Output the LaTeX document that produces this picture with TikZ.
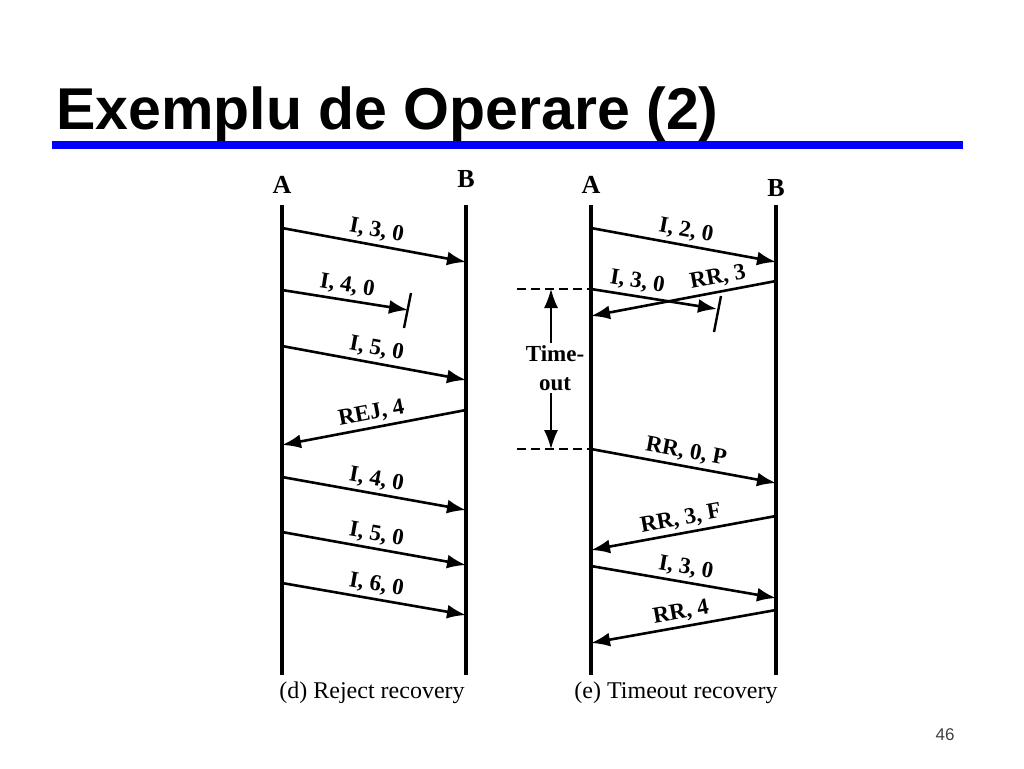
\documentclass[tikz,border=0pt]{standalone}
\usepackage{fontspec}
\setmainfont{Liberation Serif}
\newfontfamily\titlefont{Liberation Sans}
\usetikzlibrary{arrows.meta}

\begin{document}
\begin{tikzpicture}[x=1pt,y=-1pt,
    life/.style={line width=3.2pt},
    msg/.style={line width=2.6pt,-{Latex[length=19pt,width=14pt]}},
    lbl/.style={sloped,above,inner sep=3.5pt,font=\bfseries\fontsize{23}{23}\selectfont},
    who/.style={font=\bfseries\fontsize{26}{26}\selectfont},
    capt/.style={font=\fontsize{24}{24}\selectfont}]
\useasboundingbox (0,0) rectangle (1024,768);

% title
\node[anchor=base west,inner sep=0pt,font=\titlefont\bfseries\fontsize{59}{59}\selectfont] (title) at (56,129) {Exemplu de Operare (2)};
\fill[blue] (52,141) rectangle (963,149);
\node[font=\titlefont\fontsize{17}{17}\selectfont,black!75] (page) at (945,735) {46};

% (d) reject recovery
\node[who] (dA) at (282,185) {A};
\node[who] (dB) at (466,179) {B};
\coordinate (dA0) at (282,205); \coordinate (dA1) at (282,675);
\coordinate (dB0) at (466,205); \coordinate (dB1) at (466,675);
\draw[life] (dA0) -- (dA1);
\draw[life] (dB0) -- (dB1);

\foreach \ya/\yb/\txt [count=\i] in {228/262/{I, 3, 0},346/380/{I, 5, 0},477/510/{I, 4, 0},532/565/{I, 5, 0},583/615/{I, 6, 0}}
{
  \coordinate (ds\i) at (282,\ya);
  \coordinate (de\i) at (466,\yb);
  \draw[msg] (ds\i) -- node[lbl]{\txt} (de\i);
}
% lost frame
\coordinate (dls) at (282,290); \coordinate (dle) at (408,310);
\draw[msg] (dls) -- node[lbl]{I, 4, 0} (dle);
\coordinate (dk0) at (411,293); \coordinate (dk1) at (404,328);
\draw[line width=2.4pt] (dk0) -- (dk1);
% reject
\coordinate (drs) at (466,410); \coordinate (dre) at (282,445);
\draw[msg] (drs) -- node[lbl]{REJ, 4} (dre);

\node[capt] (capd) at (372,693) {(d) Reject recovery};

% (e) timeout recovery
\node[who] (eA) at (591,185) {A};
\node[who] (eB) at (776,188) {B};
\coordinate (eA0) at (591,205); \coordinate (eA1) at (591,675);
\coordinate (eB0) at (776,205); \coordinate (eB1) at (776,675);
\draw[life] (eA0) -- (eA1);
\draw[life] (eB0) -- (eB1);

\foreach \ya/\yb/\txt [count=\i] in {228/262/{I, 2, 0},449/483/{RR, 0, P},566/598/{I, 3, 0}}
{
  \coordinate (es\i) at (591,\ya);
  \coordinate (ee\i) at (776,\yb);
  \draw[msg] (es\i) -- node[lbl]{\txt} (ee\i);
}
\foreach \yb/\ya/\txt [count=\i] in {516/550/{RR, 3, F},610/643/{RR, 4}}
{
  \coordinate (fs\i) at (776,\yb);
  \coordinate (fe\i) at (591,\ya);
  \draw[msg] (fs\i) -- node[lbl]{\txt} (fe\i);
}
% crossing frames
\coordinate (els) at (591,289); \coordinate (ele) at (717,309);
\draw[msg] (els) -- node[lbl,pos=.35]{I, 3, 0} (ele);
\coordinate (ek0) at (721,296); \coordinate (ek1) at (714,332);
\draw[line width=2.4pt] (ek0) -- (ek1);
\coordinate (ers) at (776,281); \coordinate (ere) at (591,316);
\draw[msg] (ers) -- node[lbl,pos=.3]{RR, 3} (ere);

% timer
\coordinate (t0) at (517,289); \coordinate (t1) at (517,449);
\draw[line width=1.3pt,dash pattern=on 9pt off 5pt] (t0) -- (els);
\draw[line width=1.3pt,dash pattern=on 9pt off 5pt] (t1) -- (es2);
\node[align=center,inner sep=2pt,font=\bfseries\fontsize{23}{29}\selectfont] (tmo) at (555,368) {Time-\\out};
\coordinate (tu) at (551,289); \coordinate (td) at (551,449);
\draw[line width=1.6pt,-{Latex[length=19pt,width=14pt]}] (tmo.north -| tu) -- (tu);
\draw[line width=1.6pt,-{Latex[length=19pt,width=14pt]}] (tmo.south -| td) -- (td);

\node[capt] (cape) at (676,693) {(e) Timeout recovery};
\end{tikzpicture}
\end{document}
